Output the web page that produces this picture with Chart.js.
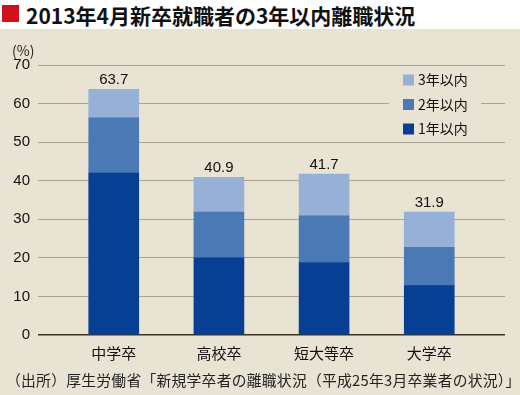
<!DOCTYPE html>
<html><head><meta charset="utf-8">
<script src="https://cdn.jsdelivr.net/npm/chart.js@4/dist/chart.umd.min.js"></script>
<style>
html,body{margin:0;padding:0;width:520px;height:395px;overflow:hidden;background:#e9e3d3;}
#title{position:absolute;left:0;top:0;width:520px;height:29px;background:#fff;}
#title .sq{position:absolute;left:2px;top:5px;width:17px;height:17px;background:#d0101b;}
#title .tx{position:absolute;left:26px;top:0px;line-height:29px;font:bold 21px "Noto Sans CJK JP";color:#111;white-space:nowrap;letter-spacing:0px;}
#unit{position:absolute;left:12px;top:40px;font:14px "Noto Sans CJK JP";color:#222;}
#src{position:absolute;left:6px;top:369px;font:14.8px "Noto Sans CJK JP";color:#222;white-space:nowrap;letter-spacing:0.25px;}
#wrap{position:absolute;left:0;top:29px;width:520px;height:366px;}
</style></head>
<body>
<div id="title"><div class="sq"></div><div class="tx">2013年4月新卒就職者の3年以内離職状況</div></div>
<div id="wrap"><canvas id="c" width="520" height="366"></canvas></div>
<div id="unit">(%)</div>
<div id="src">（出所）厚生労働省「新規学卒者の離職状況（平成25年3月卒業者の状況）」</div>
<script>
const categories = ["中学卒", "高校卒", "短大等卒", "大学卒"];
const year1 = [42.0, 20.0, 18.8, 12.8];
const year2 = [14.3, 11.9, 12.1, 9.9];
const year3 = [7.4, 9.0, 10.8, 9.2];
const totals = ["63.7", "40.9", "41.7", "31.9"];
const seriesNames = ["1年以内", "2年以内", "3年以内"];
const yTicks = [0, 10, 20, 30, 40, 50, 60, 70];

const colors = ["#073f95", "#4b79b6", "#97b1d6"];
const toPts = arr => arr.map((v, i) => ({x: i, y: v}));

const labelPlugin = {
  id: 'totals',
  afterDatasetsDraw(chart) {
    const ctx = chart.ctx;
    const meta = chart.getDatasetMeta(2);
    ctx.save();
    ctx.font = '15px "Liberation Sans", Arial, sans-serif';
    ctx.fillStyle = '#111';
    ctx.textAlign = 'center';
    ctx.textBaseline = 'alphabetic';
    meta.data.forEach((el, i) => {
      ctx.fillText(totals[i], el.x, el.y - 5);
    });
    ctx.restore();
  }
};

const legendPlugin = {
  id: 'customLegend',
  afterDatasetsDraw(chart) {
    const ctx = chart.ctx;
    ctx.save();
    ctx.fillStyle = '#e9e3d3';
    ctx.fillRect(389, 40, 92, 70);
    const ds = chart.data.datasets;
    const rows = [2, 1, 0];
    ctx.font = '14px "Noto Sans CJK JP"';
    ctx.textBaseline = 'middle';
    ctx.textAlign = 'left';
    rows.forEach((di, r) => {
      const cy = 51 + r * 24.5;
      ctx.fillStyle = ds[di].backgroundColor;
      ctx.fillRect(403, cy - 5.5, 11, 11);
      ctx.fillStyle = '#111';
      ctx.fillText(ds[di].label, 418, cy);
    });
    ctx.restore();
  }
};

new Chart(document.getElementById('c'), {
  type: 'bar',
  data: {
    datasets: [
      {label: seriesNames[0], data: toPts(year1), backgroundColor: colors[0]},
      {label: seriesNames[1], data: toPts(year2), backgroundColor: colors[1]},
      {label: seriesNames[2], data: toPts(year3), backgroundColor: colors[2]}
    ]
  },
  options: {
    responsive: false,
    animation: false,
    devicePixelRatio: 1,
    layout: {padding: {top: 36, right: 15, left: 0, bottom: 0}},
    datasets: {bar: {barThickness: 50, borderWidth: 0}},
    plugins: {legend: {display: false}, tooltip: {enabled: false}},
    scales: {
      x: {
        type: 'linear',
        stacked: true,
        offset: false,
        min: -0.72, max: 3.72,
        afterFit: s => { s.height = 60; },
        grid: {display: false, drawTicks: false, offset: false},
        border: {display: false},
        afterBuildTicks: s => { s.ticks = categories.map((c, i) => ({value: i})); },
        ticks: {
          padding: 9,
          autoSkip: false,
          maxRotation: 0,
          color: '#111',
          font: {family: '"Noto Sans CJK JP"', size: 15},
          callback: (v) => categories[v]
        }
      },
      y: {
        stacked: true,
        min: 0, max: 70,
        afterFit: s => { s.width = 38; },
        afterBuildTicks: s => { s.ticks = yTicks.map(v => ({value: v})); },
        grid: {
          drawTicks: false,
          color: ctx => ctx.tick && ctx.tick.value === 0 ? '#3b3422' : '#aaa28e',
          lineWidth: ctx => ctx.tick && ctx.tick.value === 0 ? 1.5 : 1
        },
        border: {display: false},
        ticks: {
          padding: 8,
          color: '#111',
          font: {family: '"Liberation Sans", Arial, sans-serif', size: 15}
        }
      }
    }
  },
  plugins: [labelPlugin, legendPlugin]
});
</script>
</body></html>
